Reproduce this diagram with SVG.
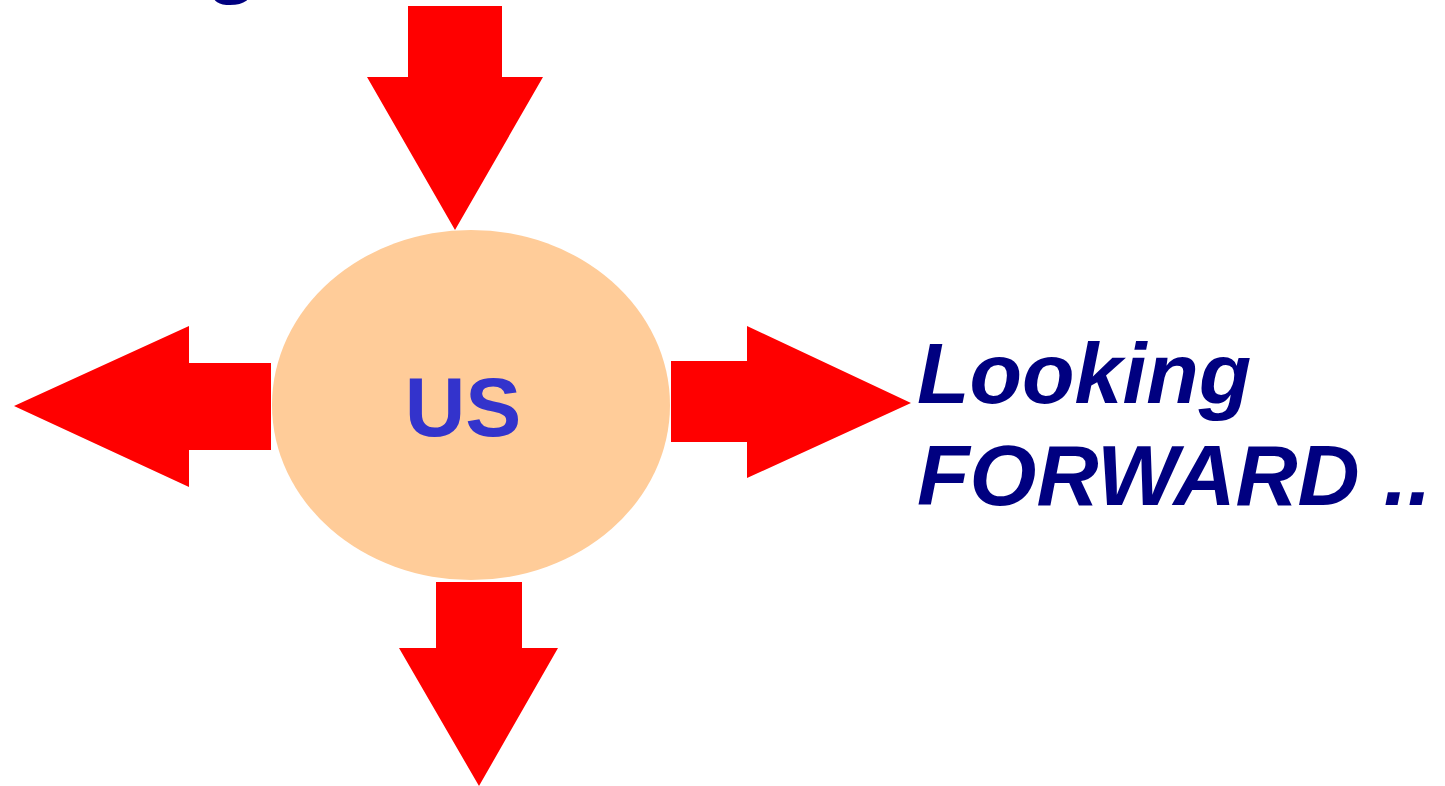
<svg xmlns="http://www.w3.org/2000/svg" width="1445" height="786" viewBox="0 0 1445 786">
<style>
.arrow{fill:#FF0000;stroke:none}
.lbl{font-family:"Liberation Sans",Arial,sans-serif;font-weight:bold;font-style:italic;fill:#000080;font-size:86px}
</style>
<rect width="1445" height="786" fill="#FFFFFF"/>
<text class="lbl" x="212" y="-13">g</text>
<g id="connectors">
<polygon class="arrow" points="408,6 502,6 502,77 543,77 455,230 367,77 408,77"/>
<polygon class="arrow" points="271,363 271,450 189,450 189,487 14,406 189,326 189,363"/>
<polygon class="arrow" points="671,361 747,361 747,326 911,403 747,478 747,442 671,442"/>
<polygon class="arrow" points="436,582 522,582 522,648 558,648 479,786 399,648 436,648"/>
</g>
<g id="us">
<ellipse cx="471" cy="405" rx="199" ry="175" fill="#FFCC99"/>
<text x="463" y="436" text-anchor="middle" font-family="'Liberation Sans',Arial,sans-serif" font-weight="bold" font-size="84" fill="#3333CC">US</text>
</g>
<g id="label">
<text class="lbl" x="917" y="403">Looking</text>
<text class="lbl" x="917" y="505">FORWARD ..</text>
</g>
</svg>
